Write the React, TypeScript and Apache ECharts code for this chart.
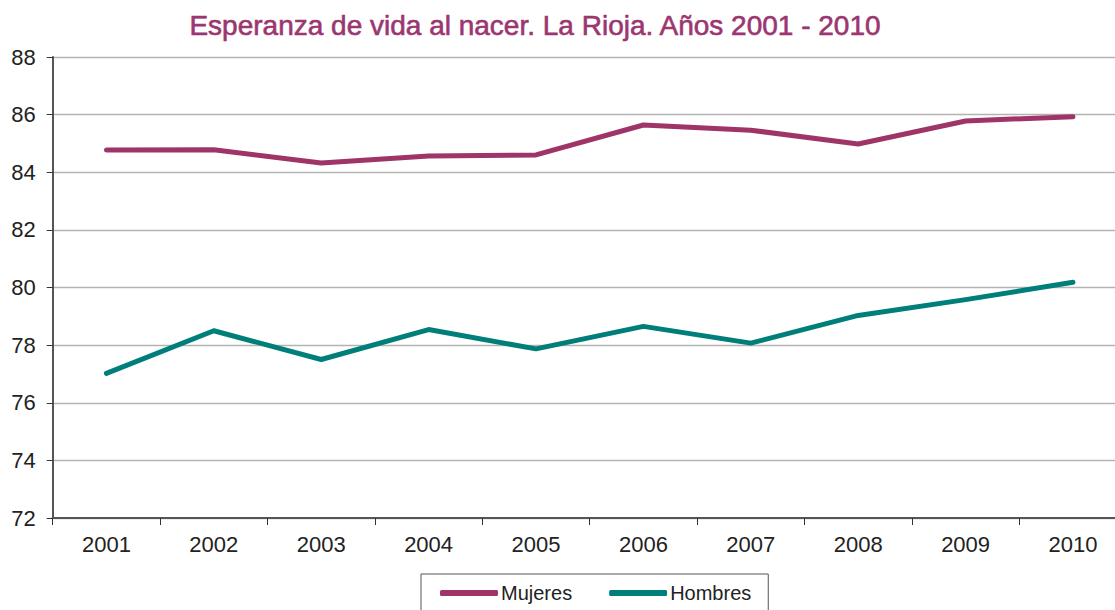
import React, { useEffect, useRef } from "react";
import * as echarts from "echarts";

const years = ["2001", "2002", "2003", "2004", "2005", "2006", "2007", "2008", "2009", "2010"];
const mujeres = [84.77, 84.78, 84.32, 84.56, 84.6, 85.64, 85.46, 84.98, 85.78, 85.93];
const hombres = [77.02, 78.5, 77.5, 78.54, 77.87, 78.65, 78.07, 79.03, 79.58, 80.18];
const titleText = "Esperanza de vida al nacer. La Rioja. Años 2001 - 2010";

export default function App() {
  const ref = useRef<HTMLDivElement>(null);
  useEffect(() => {
    const chart = echarts.init(ref.current!, null, { renderer: "svg" });
    const font = "'Liberation Sans', Arial, Helvetica, sans-serif";
    chart.setOption({
      animation: false,
      backgroundColor: "#ffffff",
      textStyle: { fontFamily: font },
      title: {
        text: titleText,
        left: 530,
        textAlign: "center",
        top: 6,
        textStyle: {
          color: "#9B3670",
          fontSize: 28,
          fontWeight: "normal",
          fontFamily: font,
          textBorderColor: "#9B3670",
          textBorderWidth: 0.6,
        },
      },
      legend: {
        left: 421,
        top: 574,
        padding: [9, 17, 20, 19],
        borderColor: "#555",
        borderWidth: 1,
        borderRadius: 0,
        itemWidth: 58,
        itemHeight: 6,
        itemGap: 37,
        icon: "roundRect",
        textStyle: { fontSize: 20, color: "#222", fontFamily: font, padding: [0, 0, 0, -2] },
        data: [
          { name: "Mujeres", itemStyle: { color: "#9E3468" } },
          { name: "Hombres", itemStyle: { color: "#007F7A" } },
        ],
      },
      grid: { left: 52.7, top: 57, width: 1074, height: 461 },
      xAxis: {
        type: "category",
        data: years,
        boundaryGap: true,
        axisLine: { lineStyle: { color: "#555", width: 2 } },
        axisTick: { show: true, length: 7, lineStyle: { color: "#333", width: 1 } },
        axisLabel: { fontSize: 22, color: "#222", margin: 15, fontFamily: font },
        splitLine: { show: false },
      },
      yAxis: {
        type: "value",
        min: 72,
        max: 88,
        interval: 2,
        axisLine: { show: true, lineStyle: { color: "#555", width: 2 } },
        axisTick: { show: true, length: 6, lineStyle: { color: "#333", width: 1 } },
        axisLabel: { fontSize: 22, color: "#222", margin: 17, fontFamily: font },
        splitLine: { show: true, lineStyle: { color: "#b3b3b3", width: 1.3 } },
      },
      series: [
        {
          name: "Mujeres",
          type: "line",
          data: mujeres,
          symbol: "none",
          lineStyle: { color: "#9E3468", width: 5, cap: "round", join: "round" },
          itemStyle: { color: "#9E3468" },
        },
        {
          name: "Hombres",
          type: "line",
          data: hombres,
          symbol: "none",
          lineStyle: { color: "#007F7A", width: 5, cap: "round", join: "round" },
          itemStyle: { color: "#007F7A" },
        },
      ],
    });
    return () => chart.dispose();
  }, []);
  return (
    <div
      style={{ position: "fixed", left: 0, top: 0, width: 1115, height: 610, overflow: "hidden", background: "#fff" }}
    >
      <div ref={ref} style={{ width: 1135, height: 610 }} />
    </div>
  );
}
